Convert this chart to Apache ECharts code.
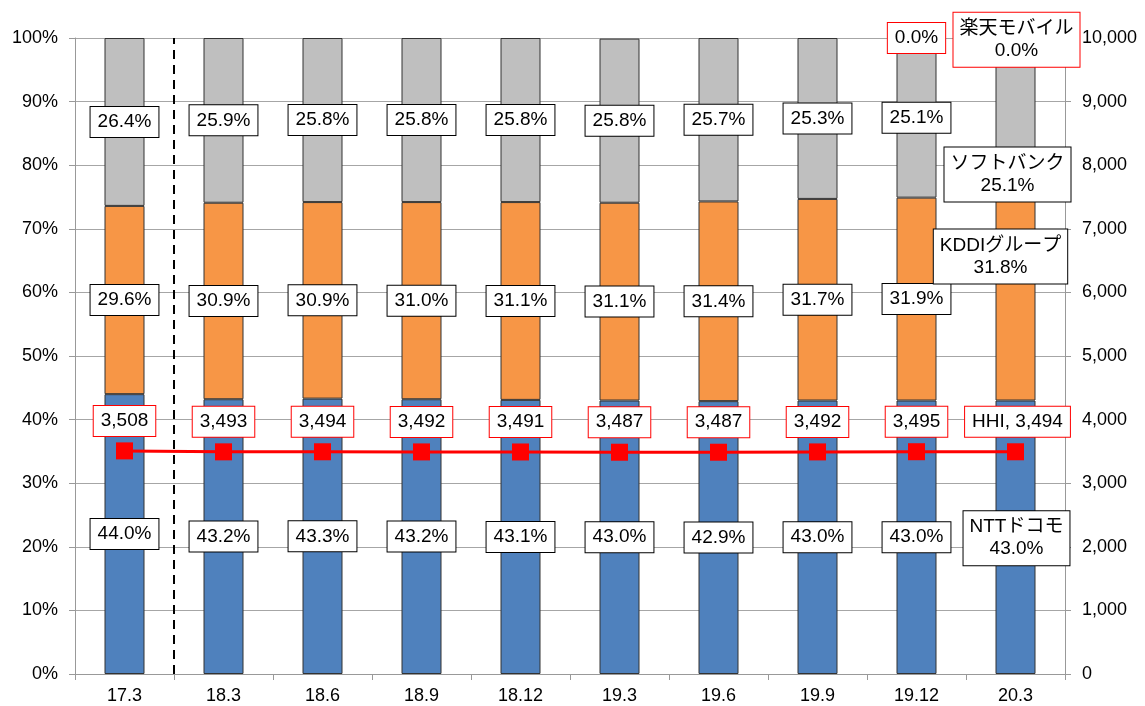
<!DOCTYPE html>
<html><head><meta charset="utf-8">
<script src="https://cdn.jsdelivr.net/npm/echarts@6/dist/echarts.min.js"></script>
<style>html,body{margin:0;padding:0;background:#fff}#c{width:1145px;height:706px}</style>
</head><body><div id="c"></div>
<script>
const categories = ['17.3','18.3','18.6','18.9','18.12','19.3','19.6','19.9','19.12','20.3'];
const docomo   = [44.0, 43.2, 43.3, 43.2, 43.1, 43.0, 42.9, 43.0, 43.0, 43.0];
const kddi     = [29.6, 30.9, 30.9, 31.0, 31.1, 31.1, 31.4, 31.7, 31.9, 31.8];
const softbank = [26.4, 25.9, 25.8, 25.8, 25.8, 25.8, 25.7, 25.3, 25.1, 25.1];
const rakuten  = [null, null, null, null, null, null, null, null, 0.0, 0.0];
const hhi      = [3508, 3493, 3494, 3492, 3491, 3487, 3487, 3492, 3495, 3494];
const seriesNames = ['NTTドコモ','KDDIグループ','ソフトバンク','楽天モバイル'];
const leftTicks = [0,10,20,30,40,50,60,70,80,90,100];
const rightTicks = [0,1000,2000,3000,4000,5000,6000,7000,8000,9000,10000];

const FONT = '"Liberation Sans", Arial, "Noto Sans CJK JP", sans-serif';
const last = categories.length - 1;
const pct = v => v.toFixed(1) + '%';
const fmtNum = v => v.toLocaleString('en-US');

function boxLabel(border) {
  return {
    show: true, position: 'inside', color: '#000', fontFamily: FONT, fontSize: 19,
    lineHeight: 22, backgroundColor: '#fff', borderColor: border, borderWidth: 1,
    padding: [4, 7], formatter: p => pct(p.value)
  };
}
function barData(arr, name, offset, border) {
  return arr.map((v, i) => {
    if (i === last) {
      return { value: v, label: Object.assign(boxLabel(border), {
        formatter: name + '\n' + pct(v), offset: offset, padding: [5, 6] }) };
    }
    return v;
  });
}
const barStyle = c => ({ color: c, borderColor: '#333', borderWidth: 1 });

const chart = echarts.init(document.getElementById('c'), null, { renderer: 'canvas' });
chart.setOption({
  animation: false,
  backgroundColor: '#fff',
  grid: { left: 75, right: 80, top: 38, bottom: 32, containLabel: false },
  xAxis: [{
    type: 'category', data: categories, boundaryGap: true,
    axisLine: { lineStyle: { color: '#999' } },
    axisTick: { show: true, alignWithLabel: false, length: 6, lineStyle: { color: '#999' } },
    axisLabel: { color: '#000', fontFamily: FONT, fontSize: 18, margin: 13 }
  }, {
    type: 'value', min: 0, max: categories.length, show: false
  }],
  yAxis: [{
    type: 'value', min: leftTicks[0], max: leftTicks[leftTicks.length-1], interval: 10,
    axisLine: { show: true, lineStyle: { color: '#999' } },
    axisTick: { show: true, length: 6, lineStyle: { color: '#999' } },
    splitLine: { lineStyle: { color: '#a6a6a6' } },
    axisLabel: { color: '#000', fontFamily: FONT, fontSize: 18, margin: 17, formatter: v => v + '%' }
  }, {
    type: 'value', min: rightTicks[0], max: rightTicks[rightTicks.length-1], interval: 1000,
    position: 'right',
    axisLine: { show: true, lineStyle: { color: '#999' } },
    axisTick: { show: true, length: 6, lineStyle: { color: '#999' } },
    splitLine: { show: false },
    axisLabel: { color: '#000', fontFamily: FONT, fontSize: 18, margin: 17, formatter: v => fmtNum(v) }
  }],
  series: [
    { name: seriesNames[0], type: 'bar', stack: 's', barWidth: 40, itemStyle: barStyle('#4F81BD'),
      label: boxLabel('#000'), data: barData(docomo, seriesNames[0], [1, 1], '#000'), z: 2 },
    { name: seriesNames[1], type: 'bar', stack: 's', barWidth: 40, itemStyle: barStyle('#F79646'),
      label: boxLabel('#000'), data: barData(kddi, seriesNames[1], [-15, -43], '#000'), z: 2 },
    { name: seriesNames[2], type: 'bar', stack: 's', barWidth: 40, itemStyle: barStyle('#BFBFBF'),
      label: boxLabel('#000'), data: barData(softbank, seriesNames[2], [-8, 56], '#000'), z: 2 },
    { name: seriesNames[3], type: 'bar', stack: 's', barWidth: 40,
      itemStyle: { color: '#7F7F7F', borderWidth: 0 },
      label: boxLabel('#ff0000'), data: barData(rakuten, seriesNames[3], [1, 1], '#ff0000'), z: 3 },
    { name: 'dash', type: 'line', xAxisIndex: 1, yAxisIndex: 0, symbol: 'none', silent: true,
      lineStyle: { color: '#000', width: 2, type: [9, 6] }, data: [[1, 0], [1, 100]], z: 3 },
    { name: 'HHI', type: 'line', yAxisIndex: 1, symbol: 'rect', symbolSize: 17,
      itemStyle: { color: '#ff0000' }, lineStyle: { color: '#ff0000', width: 3 },
      label: Object.assign(boxLabel('#ff0000'), { offset: [0, -30], formatter: p => fmtNum(p.value) }),
      data: hhi.map((v, i) => i === last ? { value: v,
        label: { formatter: 'HHI, ' + fmtNum(v), offset: [2, -30] } } : v), z: 4 }
  ]
});
</script>
</body></html>
